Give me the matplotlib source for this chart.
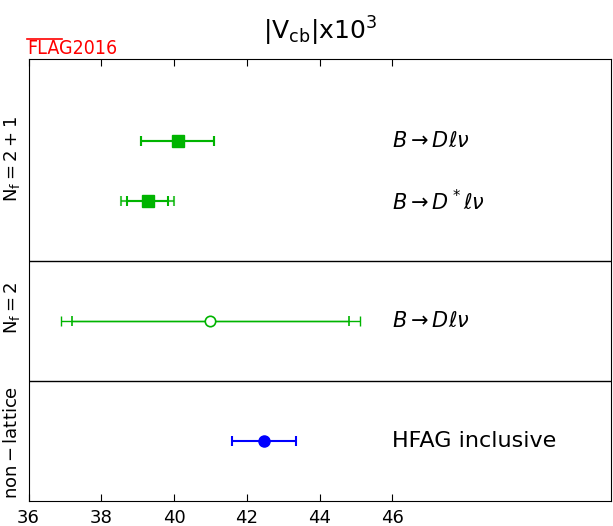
# |Vcb| x 10^3 FLAG 2016 summary plot
import matplotlib.pyplot as plt
from matplotlib.lines import Line2D

# data
labels = [r'$B\to D\ell\nu$', r'$B\to D^*\ell\nu$', r'$B\to D\ell\nu$', 'HFAG inclusive']
values = [40.1, 39.27, 41.0, 42.46]
err_inner = [1.0, 0.56, 3.8, 0.88]
err_outer = [1.0, 0.74, 4.1, 0.88]
rows = [6, 5, 3, 1]
groups = [r'$\mathrm{N_f=2+1}$', r'$\mathrm{N_f=2}$', r'$\mathrm{non-lattice}$']
group_rows = [5.7, 3.22, 0.98]
separators = [2, 4]
xticks = [36, 38, 40, 42, 44, 46]

green = '#00b400'
blue = '#0000ff'

fig = plt.figure(figsize=(6.13, 5.26), dpi=100)
ax = fig.add_axes([0.0465, 0.0475, 0.95, 0.840])

# Nf=2+1 : filled squares
for i in [0, 1]:
    ax.errorbar(values[i], rows[i], xerr=err_outer[i], fmt='none', ecolor=green,
                elinewidth=1.5, capsize=3.5, capthick=1.5, alpha=0.75)
    ax.errorbar(values[i], rows[i], xerr=err_inner[i], fmt='s', color=green,
                ms=8.5, mec=green, elinewidth=1.5, capsize=3.5, capthick=1.5)
# Nf=2 : open circle
ax.errorbar(values[2], rows[2], xerr=err_outer[2], fmt='none', ecolor=green,
            elinewidth=1, capsize=3.5, capthick=1)
ax.errorbar(values[2], rows[2], xerr=err_inner[2], fmt='o', color=green,
            mfc='white', mec=green, mew=1.2, ms=7.5, elinewidth=1, capsize=3.5, capthick=1)
# non-lattice : blue dot
ax.errorbar(values[3], rows[3], xerr=err_inner[3], fmt='o', color=blue,
            ms=8, elinewidth=1.5, capsize=3.5, capthick=1.5)

# labels of the results
for lab, r in zip(labels, rows):
    fs = 16 if lab == 'HFAG inclusive' else 15
    ax.text(46.0, r, lab, fontsize=fs, ha='left', va='center')

for s in separators:
    ax.axhline(s, color='black', lw=1)

ax.set_xlim(36, 52)
ax.set_ylim(0, 7.37)
ax.set_xticks(xticks)
ax.set_yticks([])
ax.tick_params(axis='x', direction='in', top=True, bottom=True, length=5,
               labelsize=13, pad=6)

for g, r in zip(groups, group_rows):
    ax.text(-0.028, r, g, transform=ax.get_yaxis_transform(),
            rotation=90, ha='center', va='center', fontsize=13)

ax.set_title(r'$\mathrm{|V_{cb}|x10^3}$', fontsize=18, pad=14)

# FLAG logo
fig.text(0.044, 0.898, 'FLAG2016', color='red', fontsize=14,
         fontstretch='condensed', ha='left', va='baseline')
fig.add_artist(Line2D([0.044, 0.101], [0.926, 0.926], color='red', lw=1.2,
                      transform=fig.transFigure))

fig.savefig('out.png', dpi=100)
